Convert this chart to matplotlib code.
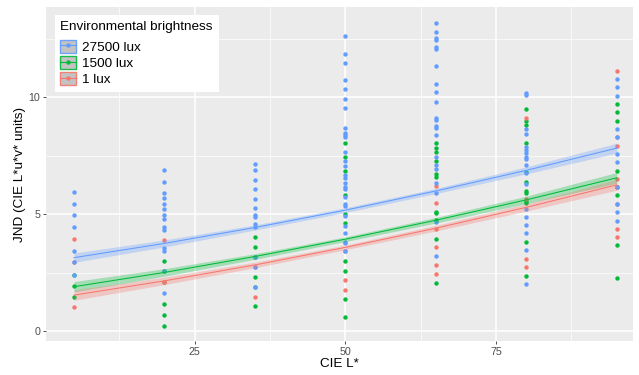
import matplotlib
matplotlib.use('Agg')
import matplotlib.pyplot as plt
from matplotlib.patches import Patch
from matplotlib.lines import Line2D
from matplotlib.ticker import FixedLocator

plt.rcParams['font.family'] = ['Liberation Sans', 'DejaVu Sans']

# ---------------- data ----------------
x_levels = [5, 20, 35, 50, 65, 80, 95]
series_names = ['27500 lux', '1500 lux', '1 lux']
series_colors = ['#619CFF', '#00BA38', '#F8766D']

# JND values per x level (one inner list per CIE L* level)
jnd_27500 = [
    [5.95, 5.45, 4.96, 4.46, 3.45, 2.95, 2.43],
    [6.88, 6.39, 5.92, 5.68, 5.44, 5.24, 4.96, 4.79, 4.47, 4.33, 3.55, 3.45, 2.59, 1.62],
    [7.14, 6.89, 6.48, 6.07, 5.65, 5.26, 4.97, 4.87, 4.60, 4.47, 3.19, 2.76, 1.91],
    [12.63, 11.86, 11.48, 10.73, 10.34, 9.94, 9.54, 8.70, 8.46, 8.38, 8.29, 7.65, 7.26,
     7.06, 6.67, 6.54, 6.32, 6.18, 6.08, 5.75, 5.44, 5.35, 4.93, 4.51, 4.19, 3.82, 3.76, 3.42],
    [13.16, 12.79, 12.52, 12.45, 12.14, 12.08, 11.34, 10.57, 10.21, 9.79, 9.13, 9.03, 8.77,
     8.69, 8.40, 7.46, 7.11, 6.92, 6.32, 5.90, 4.67, 3.22],
    [10.20, 10.10, 8.65, 8.43, 7.89, 7.75, 7.61, 7.46, 7.35, 7.11, 6.75, 6.29, 5.21, 4.90,
     4.54, 4.19, 3.47, 2.01],
    [10.78, 10.43, 10.07, 8.65, 8.29, 7.58, 7.22, 6.15, 5.44, 5.09, 4.73],
]
jnd_1500 = [
    [2.43, 1.95, 1.48],
    [3.02, 2.59, 2.09, 1.15, 0.70, 0.24],
    [4.02, 3.59, 3.19, 2.33, 1.91, 1.07],
    [8.03, 7.46, 6.86, 5.84, 5.01, 4.62, 2.99, 2.59, 1.39, 0.61],
    [8.03, 7.83, 7.65, 7.29, 6.71, 6.61, 5.11, 5.05, 4.76, 3.96, 2.08],
    [9.49, 8.99, 8.82, 8.06, 6.82, 6.39, 5.99, 5.93, 5.58, 5.47, 3.83, 2.36],
    [9.71, 9.36, 9.00, 6.86, 6.15, 5.81, 3.68, 2.28],
]
jnd_1 = [
    [3.94, 2.95, 1.04],
    [3.90, 2.09],
    [2.76, 1.48],
    [3.42, 2.19, 1.79],
    [6.21, 5.47, 4.36, 3.59, 2.83, 2.45],
    [9.13, 5.64, 3.09, 2.74],
    [11.14, 8.29, 7.93, 6.51, 6.15, 5.44, 4.37, 4.02],
]

# fitted trend lines and confidence band half-widths
fit_27500 = [3.15, 3.76, 4.44, 5.18, 6.00, 6.88, 7.83]
fit_1500 = [1.91, 2.52, 3.20, 3.94, 4.75, 5.62, 6.56]
fit_1 = [1.55, 2.16, 2.84, 3.59, 4.41, 5.30, 6.26]
band_27500 = [0.20, 0.15, 0.11, 0.10, 0.11, 0.15, 0.21]
band_1500 = [0.22, 0.16, 0.12, 0.10, 0.12, 0.16, 0.23]
band_1 = [0.22, 0.16, 0.12, 0.10, 0.12, 0.16, 0.23]

x_ticks = [25, 50, 75]
y_ticks = [0, 5, 10]

# ---------------- figure ----------------
W, H = 639, 375
fig = plt.figure(figsize=(W / 100, H / 100), dpi=100)
left, right, bottom, top = 46, 633, 34, 368
ax = fig.add_axes([left / W, bottom / H, (right - left) / W, (top - bottom) / H])
ax.set_facecolor('#EBEBEB')
ax.set_xlim(0.35, 97.7)
ax.set_ylim(-0.41, 13.86)

ax.xaxis.set_major_locator(FixedLocator(x_ticks))
ax.xaxis.set_minor_locator(FixedLocator([12.5, 37.5, 62.5, 87.5]))
ax.yaxis.set_major_locator(FixedLocator(y_ticks))
ax.yaxis.set_minor_locator(FixedLocator([2.5, 7.5, 12.5]))
ax.grid(which='major', color='white', linewidth=1.1, zorder=0)
ax.grid(which='minor', color='white', linewidth=0.5, zorder=0)
ax.set_axisbelow(True)
for s in ax.spines.values():
    s.set_visible(False)
ax.tick_params(which='major', length=2.5, width=0.6, color='#333333',
               labelsize=7.7, labelcolor='#4D4D4D', pad=1.5)
ax.tick_params(which='minor', length=0)

points = {'27500 lux': jnd_27500, '1500 lux': jnd_1500, '1 lux': jnd_1}
fits = {'27500 lux': fit_27500, '1500 lux': fit_1500, '1 lux': fit_1}
bands = {'27500 lux': band_27500, '1500 lux': band_1500, '1 lux': band_1}
colors = dict(zip(series_names, series_colors))

# points: draw green, red, then blue on top
for name in ['1500 lux', '1 lux', '27500 lux']:
    xs, ys = [], []
    for xv, col in zip(x_levels, points[name]):
        xs += [xv] * len(col)
        ys += col
    ax.scatter(xs, ys, s=10, color=colors[name], linewidths=0, zorder=2)

for name in series_names:
    f = fits[name]
    b = bands[name]
    lo = [a - d for a, d in zip(f, b)]
    hi = [a + d for a, d in zip(f, b)]
    ax.fill_between(x_levels, lo, hi, color=colors[name], alpha=0.3, linewidth=0, zorder=3)
    ax.plot(x_levels, f, color=colors[name], linewidth=0.75, zorder=4,
            solid_joinstyle='round')

ax.set_xlabel('CIE L*', fontsize=9.7, color='black', labelpad=1)
ax.set_ylabel('JND (CIE L*u*v* units)', fontsize=9.7, color='black', labelpad=2)

handles = []
for name in series_names:
    c = colors[name]
    patch = Patch(facecolor='#BDBDBD', edgecolor=c, linewidth=1.0, alpha=0.9)
    line = Line2D([], [], color=c, linewidth=0.8, marker='o', markersize=3.2,
                  markeredgewidth=0)
    handles.append((patch, line))

leg = ax.legend(handles, series_names, title='Environmental brightness',
                loc='upper left', bbox_to_anchor=(0.015, 0.975), borderaxespad=0,
                fontsize=9.7, title_fontsize=9.7, frameon=True, fancybox=False,
                framealpha=1, edgecolor='white', handlelength=1.15, handleheight=1.1,
                labelspacing=0.16, handletextpad=0.45, borderpad=0.42)
leg._legend_box.align = 'left'
leg._legend_box.sep = 5
leg.get_frame().set_linewidth(0)

fig.savefig('out.png', dpi=100, facecolor='white')
